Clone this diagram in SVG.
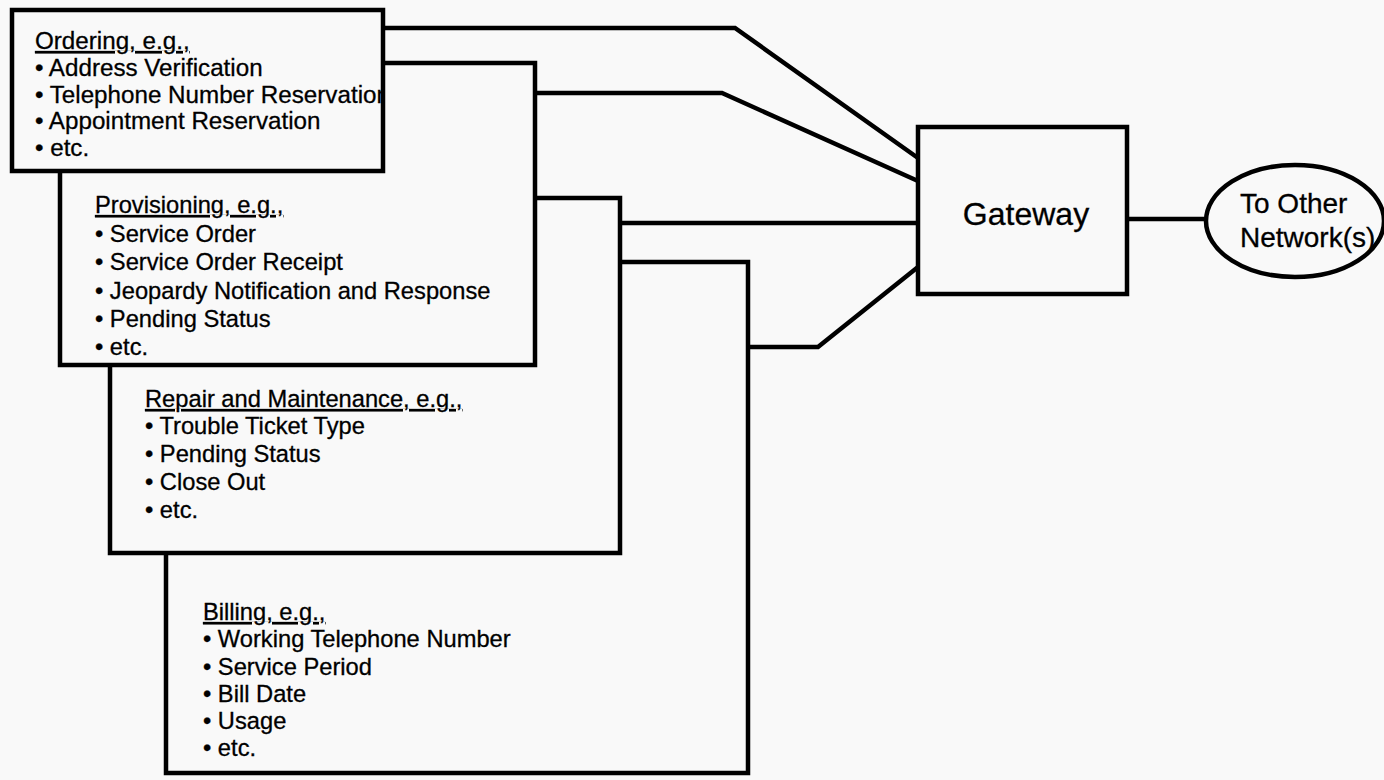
<svg xmlns="http://www.w3.org/2000/svg" width="1384" height="780" viewBox="0 0 1384 780">
<style>
.box{fill:#f9f9f9;stroke:#000;stroke-width:4.5}
.conn{fill:none;stroke:#000;stroke-width:4.5;stroke-linejoin:miter}
.t{font-family:"Liberation Sans",Arial,sans-serif;font-size:23.7px;fill:#000;stroke:#000;stroke-width:0.3}
.o{font-size:24.2px}
.h{text-decoration:underline}
.big{font-family:"Liberation Sans",Arial,sans-serif;fill:#000;stroke:#000;stroke-width:0.3}
</style>
<defs>
<clipPath id="clipOrd"><rect x="12" y="10" width="369" height="161"/></clipPath>
</defs>
<rect x="0" y="0" width="1384" height="780" fill="#f9f9f9"/>
<g id="connectors">
<polyline class="conn" points="383,28 735,28 918,158"/>
<polyline class="conn" points="535,93 722,93 918,181"/>
<polyline class="conn" points="620,223 918,223"/>
<polyline class="conn" points="748,347 818,347 918,267"/>
<line class="conn" x1="1127" y1="219" x2="1206" y2="219"/>
</g>
<g id="billing">
<rect class="box" x="166" y="262" width="582" height="511"/>
<text class="t h" x="203" y="620">Billing, e.g.,</text>
<text class="t" x="203" y="647">• Working Telephone Number</text>
<text class="t" x="203" y="675">• Service Period</text>
<text class="t" x="203" y="702">• Bill Date</text>
<text class="t" x="203" y="729">• Usage</text>
<text class="t" x="203" y="756">• etc.</text>
</g>
<g id="repair">
<rect class="box" x="110" y="198" width="510" height="355"/>
<text class="t h" x="145" y="407">Repair and Maintenance, e.g.,</text>
<text class="t" x="145" y="434">• Trouble Ticket Type</text>
<text class="t" x="145" y="462">• Pending Status</text>
<text class="t" x="145" y="490">• Close Out</text>
<text class="t" x="145" y="518">• etc.</text>
</g>
<g id="provisioning">
<rect class="box" x="60" y="63" width="475" height="302"/>
<text class="t h" x="95" y="213">Provisioning, e.g.,</text>
<text class="t" x="95" y="241.5">• Service Order</text>
<text class="t" x="95" y="270">• Service Order Receipt</text>
<text class="t" x="95" y="298.5">• Jeopardy Notification and Response</text>
<text class="t" x="95" y="327">• Pending Status</text>
<text class="t" x="95" y="355">• etc.</text>
</g>
<g id="ordering">
<rect class="box" x="12" y="10" width="371" height="161"/>
<g clip-path="url(#clipOrd)">
<text class="t o h" x="35" y="49">Ordering, e.g.,</text>
<text class="t o" x="35" y="76">• Address Verification</text>
<text class="t o" x="35" y="102.5">• Telephone Number Reservation</text>
<text class="t o" x="35" y="129">• Appointment Reservation</text>
<text class="t o" x="35" y="155.5">• etc.</text>
</g>
</g>
<g id="gateway">
<rect class="box" x="918" y="127" width="209" height="167" stroke-width="5"/>
<text class="big" x="1026" y="225" font-size="32" text-anchor="middle">Gateway</text>
</g>
<g id="other-networks">
<ellipse cx="1295" cy="221" rx="89" ry="56" fill="#f9f9f9" stroke="#000" stroke-width="4.5"/>
<text class="big" x="1240" y="213" font-size="28">To Other</text>
<text class="big" x="1240" y="247" font-size="28">Network(s)</text>
</g>
</svg>
